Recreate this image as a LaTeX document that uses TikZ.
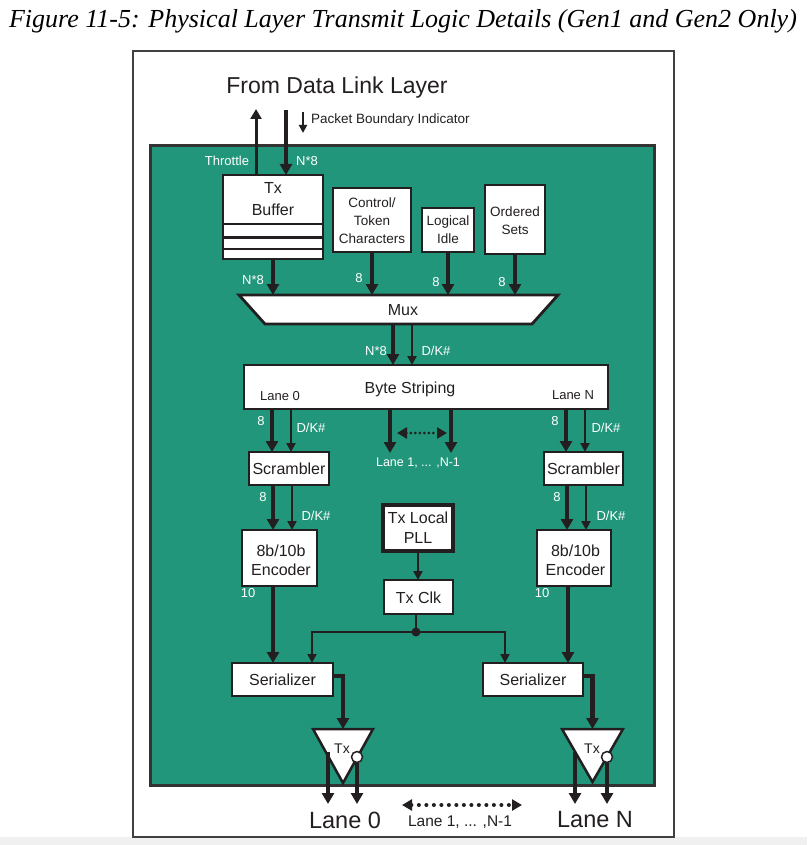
\documentclass[tikz,border=0pt]{standalone}
\usepackage{fontspec}
\setmainfont{Liberation Sans}
\newfontfamily\capfont{Liberation Serif}
\usetikzlibrary{arrows.meta,calc}
\definecolor{grn}{RGB}{33,150,122}
\definecolor{dk}{RGB}{35,31,32}
\newcommand{\fs}[2][0]{\fontsize{#2}{#2}\selectfont}
\newcommand{\fsb}[2]{\fontsize{#1}{#2}\selectfont}
\begin{document}
\begin{tikzpicture}[x=1pt,y=-1pt,
 box/.style={draw=dk,fill=white,line width=2.8pt,inner sep=0pt,outer sep=0pt},
 ghost/.style={inner sep=0pt,outer sep=0pt},
 thk/.style={draw=dk,line width=4.5pt,-{Triangle[width=12pt,length=11pt]}},
 thn/.style={draw=dk,line width=2.5pt,-{Triangle[width=9pt,length=9pt]}},
 wl/.style={text=white,font=\fs{13},inner sep=0pt},
 bl/.style={text=dk,font=\fs{16},inner sep=0pt,align=center},
 dotar/.style={draw=dk,line width=4pt,line cap=round,dash pattern=on 0pt off 7.5pt,
   {Triangle[width=11pt,length=10pt]}-{Triangle[width=11pt,length=10pt]}}
]
\useasboundingbox (0,0) rectangle (807,845);
\fill[white] (0,0) rectangle (807,845);
\fill[black!6] (0,837) rectangle (807,845);
% caption
\node[font=\capfont\itshape\fs{26},text=black,inner sep=0pt] (cap) at (403,21)
  {Figure 11-5: Physical Layer Transmit Logic Details (Gen1 and Gen2 Only)};
% frames
\draw[line width=1.6pt,draw=black!75,fill=white] (133,51) rectangle (674,837);
\draw[line width=3pt,draw=black!80,fill=grn] (150,146) rectangle (654,785);

% top
\node[font=\fs{23},text=dk,inner sep=0pt] (dll) at (337,88) {From Data Link Layer};
\node[font=\fs{13.5},text=dk,anchor=west,inner sep=0pt] (pbi) at (311,120) {Packet Boundary Indicator};
\coordinate (pbit) at (303,112);
\coordinate (pbib) at (303,133);
\draw[draw=dk,line width=2.2pt,-{Triangle[width=8pt,length=8pt]}] (pbit) -- (pbib);
\node[wl] (thr) at (227,161) {Throttle};
\node[wl] (n8a) at (307,161) {N*8};

% boxes
\node[box,minimum width=100pt,minimum height=84pt] (txbuf) at (273,217) {};
\foreach \o in {7,20.3,32}{
  \draw[dk,line width=2.8pt] ($(txbuf.west)+(0,\o)$) -- ($(txbuf.east)+(0,\o)$);
}
\node[bl,font=\fsb{16}{22}] (txbuft) at (273,199) {Tx\\Buffer};
\node[box,minimum width=78pt,minimum height=64pt] (ctrl) at (372,220) {};
\node[bl,font=\fsb{13.5}{18}] (ctrlt) at (372,221) {Control/\\Token\\Characters};
\node[box,minimum width=52pt,minimum height=44pt] (idle) at (448,230) {};
\node[bl,font=\fsb{13.5}{18}] (idlet) at (448,230) {Logical\\Idle};
\node[box,minimum width=60pt,minimum height=69pt] (oset) at (515,219.5) {};
\node[bl,font=\fsb{13.5}{18}] (osett) at (515,221) {Ordered\\Sets};

\coordinate (thrtop) at (256,109);
\draw[draw=dk,line width=3pt,-{Triangle[width=11pt,length=10pt]}] (txbuf.north -| thrtop) -- (thrtop);
\coordinate (dlin) at (286,110);
\draw[thk] (dlin) -- (dlin |- txbuf.north);

% mux
\node[ghost,minimum width=319pt,minimum height=29pt] (mux) at (398.5,309.5) {};
\draw[box] (mux.north west) -- (mux.north east) -- ($(mux.south east)+(-26,0)$)
  -- ($(mux.south west)+(26,0)$) -- cycle;
\node[bl] (muxt) at (403,310) {Mux};

\draw[thk] (txbuf.south) -- (txbuf.south |- mux.north);
\draw[thk] (ctrl.south) -- (ctrl.south |- mux.north);
\draw[thk] (idle.south) -- (idle.south |- mux.north);
\draw[thk] (oset.south) -- (oset.south |- mux.north);
\node[wl] (n8b) at (253,280) {N*8};
\node[wl] (e1) at (359,278) {8};
\node[wl] (e2) at (436,282) {8};
\node[wl] (e3) at (502,282) {8};

% byte striping
\node[box,minimum width=364pt,minimum height=44pt] (bs) at (426,387) {};
\node[bl] (bst) at (410,389) {Byte Striping};
\node[bl,font=\fs{13}] (bsl0) at (280,396) {Lane 0};
\node[bl,font=\fs{13}] (bsln) at (573,395) {Lane N};
\draw[thk] ($(mux.south)+(-5.5,0)$) -- ($(bs.north)+(-33,0)$);
\draw[thn] ($(mux.south)+(13.5,0)$) -- ($(bs.north)+(-14,0)$);
\node[wl] (n8c) at (376,351) {N*8};
\node[wl] (dk1) at (436,351) {D/K\#};

% scramblers
\node[box,minimum width=80pt,minimum height=33pt] (scr0) at (289,468.5) {};
\node[bl] (scr0t) at (289,468.5) {Scrambler};
\node[box,minimum width=79pt,minimum height=33pt] (scrN) at (583.5,468.5) {};
\node[bl] (scrNt) at (583.5,468.5) {Scrambler};
\draw[thk] ($(bs.south)+(-154,0)$) -- ($(scr0.north)+(-17,0)$);
\draw[thn] ($(bs.south)+(-135,0)$) -- ($(scr0.north)+(2,0)$);
\draw[thk] ($(bs.south)+(140,0)$) -- ($(scrN.north)+(-17.5,0)$);
\draw[thn] ($(bs.south)+(159,0)$) -- ($(scrN.north)+(1.5,0)$);
\node[wl] (e4) at (261,421) {8};
\node[wl] (dk2) at (311,428) {D/K\#};
\node[wl] (e5) at (555,421) {8};
\node[wl] (dk3) at (606,428) {D/K\#};

% middle lanes
\coordinate (lm1) at (390,453);
\coordinate (lm2) at (451,453);
\draw[thk] ($(bs.south)+(-36,0)$) -- (lm1);
\draw[thk] ($(bs.south)+(25,0)$) -- (lm2);
\coordinate (d1a) at (397,433);
\coordinate (d1b) at (447,433);
\draw[dotar,line width=3pt,dash pattern=on 0pt off 4.5pt] (d1a) -- (d1b);
\node[wl,font=\fs{12.5}] (lmt) at (418,463) {Lane 1, ... ,N-1};

% encoders
\node[box,minimum width=75pt,minimum height=56pt] (enc0) at (279.5,558) {};
\node[bl,font=\fsb{16}{18.6}] (enc0t) at (281,560) {8b/10b\\Encoder};
\node[box,minimum width=74pt,minimum height=56pt] (encN) at (574,558) {};
\node[bl,font=\fsb{16}{18.6}] (encNt) at (575.5,560) {8b/10b\\Encoder};
\draw[thk] ($(scr0.south)+(-16,0)$) -- ($(enc0.north)+(-6.5,0)$);
\draw[thn] ($(scr0.south)+(3,0)$) -- ($(enc0.north)+(12.5,0)$);
\draw[thk] ($(scrN.south)+(-16.5,0)$) -- ($(encN.north)+(-7,0)$);
\draw[thn] ($(scrN.south)+(2.5,0)$) -- ($(encN.north)+(12,0)$);
\node[wl] (e6) at (263,497) {8};
\node[wl] (dk4) at (316,516) {D/K\#};
\node[wl] (e7) at (557,497) {8};
\node[wl] (dk5) at (611,516) {D/K\#};
\node[wl] (t1) at (248,593) {10};
\node[wl] (t2) at (542,593) {10};

% clock
\node[box,line width=3.8pt,minimum width=70pt,minimum height=46pt] (pll) at (418,528) {};
\node[bl,font=\fsb{16}{20}] (pllt) at (418,528) {Tx Local\\PLL};
\node[box,minimum width=69pt,minimum height=34pt] (clk) at (418.5,597) {};
\node[bl] (clkt) at (418.5,597.5) {Tx Clk};
\draw[thn] (pll.south) -- (pll.south |- clk.north);

% serializers
\node[box,minimum width=101pt,minimum height=33pt] (ser0) at (282.5,679.5) {};
\node[bl] (ser0t) at (282.5,679.5) {Serializer};
\node[box,minimum width=100pt,minimum height=33pt] (serN) at (533,679.5) {};
\node[bl] (serNt) at (533,679.5) {Serializer};
\coordinate (junc) at ($(clk.south)+(-2.5,18)$);
\draw[draw=dk,line width=2.5pt] ($(clk.south)+(-2.5,0)$) -- (junc);
\draw[thn] (junc) -| ($(ser0.north)+(29.5,0)$);
\draw[thn] (junc) -| ($(serN.north)+(-28,0)$);
\fill[dk] (junc) circle (4.5pt);
\draw[thk] ($(enc0.south)+(-6.5,0)$) -- ($(ser0.north)+(-9.5,0)$);
\draw[thk] ($(encN.south)+(-6,0)$) -- ($(serN.north)+(35,0)$);

% Tx drivers
\node[ghost,minimum width=60pt,minimum height=54pt] (tx0) at (343,756) {};
\node[ghost,minimum width=61pt,minimum height=53pt] (txN) at (592.5,755.5) {};
\draw[box,line width=2.5pt] (tx0.north west) -- (tx0.north east) -- (tx0.south) -- cycle;
\draw[box,line width=2.5pt] (txN.north west) -- (txN.north east) -- (txN.south) -- cycle;
\node[bl,font=\fs{14}] (tx0t) at (342,749) {Tx};
\node[bl,font=\fs{14}] (txNt) at (592,749) {Tx};
\draw[thk] ($(ser0.east)+(0,-3.5)$) -| (tx0.north);
\draw[thk] ($(serN.east)+(0,-3.5)$) -| (txN.north);

\coordinate (l0a) at (328,804);
\coordinate (l0b) at (357,804);
\coordinate (lna) at (575,804);
\coordinate (lnb) at (607,804);
\draw[thk] ($(tx0.center)+(-15,-4)$) -- (l0a);
\draw[thk] ($(txN.center)+(-17.5,-3.5)$) -- (lna);
\node[circle,draw=dk,fill=white,line width=1.5pt,minimum size=11pt,inner sep=0pt] (c0) at (357,757) {};
\node[circle,draw=dk,fill=white,line width=1.5pt,minimum size=11pt,inner sep=0pt] (cN) at (607,757) {};
\draw[thk] (c0.south) -- (l0b);
\draw[thk] (cN.south) -- (lnb);

% bottom labels
\node[font=\fs{23.5},text=dk,inner sep=0pt] (lane0) at (345,820) {Lane 0};
\node[font=\fs{23.5},text=dk,inner sep=0pt] (laneN) at (595,820) {Lane N};
\node[font=\fs{15.5},text=dk,inner sep=0pt] (lanem) at (460,822) {Lane 1, ... ,N-1};
\coordinate (d2a) at (402,805);
\coordinate (d2b) at (522,805);
\draw[dotar] (d2a) -- (d2b);
\end{tikzpicture}
\end{document}
